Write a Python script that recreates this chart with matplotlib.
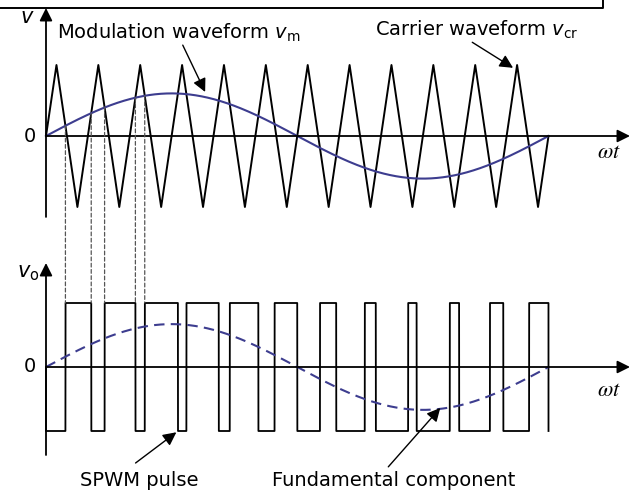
import matplotlib.pyplot as plt
import numpy as np
from matplotlib.patches import ConnectionPatch
from matplotlib.lines import Line2D

# waveform parameters
carrier_cycles = 12      # triangle periods over one modulation period
mod_index = 0.6          # modulation peak / carrier peak
fund_amp = 0.67          # fundamental peak / pulse height
n_dashed = 5             # crossings projected down to the pulses

labels_top = ['Modulation waveform $v_{\\rm m}$', 'Carrier waveform $v_{\\rm cr}$']
labels_bot = ['SPWM pulse', 'Fundamental component']

# carrier vertices: 0, +1, -1, +1, ... , -1, 0
T = 2 * np.pi / carrier_cycles
car_t = np.concatenate([[0], T / 4 + np.arange(2 * carrier_cycles) * T / 2, [2 * np.pi]])
car_v = np.concatenate([[0], np.tile([1, -1], carrier_cycles), [0]])

t = np.linspace(0, 2 * np.pi, 20001)
carrier = np.interp(t, car_t, car_v)
mod = mod_index * np.sin(t)
pulse = np.where(mod > carrier, 1.0, -1.0)
diff = mod - carrier
cross = np.where(np.sign(diff[1:]) != np.sign(diff[:-1]))[0]
cross = cross[cross > 10][:n_dashed]

W, H = 633, 492
fig = plt.figure(figsize=(W / 100, H / 100), dpi=100)
plt.rcParams['font.family'] = ['DejaVu Sans']

# pixel layout of the original drawing
x0, xs = 46, 502.5 / (2 * np.pi)
top_zero, top_unit = 136, 71
bot_zero, bot_unit = 367, 64

ax1 = fig.add_axes([0, 0, 1, 1])
ax2 = fig.add_axes([0, 0, 1, 1])
for ax, z, u in [(ax1, top_zero, top_unit), (ax2, bot_zero, bot_unit)]:
    ax.set_xlim(-x0 / xs, (W - x0) / xs)
    ax.set_ylim(-(H - z) / u, z / u)
    ax.axis('off')
ax2.patch.set_alpha(0)

axis_kw = dict(arrowstyle='-|>', color='black', lw=1.3, mutation_scale=19,
               shrinkA=0, shrinkB=0)
note_kw = dict(axis_kw, lw=1.0, mutation_scale=20)
x_end = (630 - x0) / xs
blue = '#3d3d8f'

# top panel
ax1.annotate('', xy=(x_end, 0), xytext=(0, 0), arrowprops=axis_kw)
ax1.annotate('', xy=(0, (top_zero - 8) / top_unit), xytext=(0, -1.14), arrowprops=axis_kw)
ax1.plot(car_t, car_v, color='black', lw=1.4)
ax1.plot(t, mod, color=blue, lw=1.5)
ax1.text(-0.24, 1.68, '$v$', fontsize=15, ha='center', va='center')
ax1.text(-0.2, 0, '0', fontsize=14, ha='center', va='center')
ax1.text(7.04, -0.22, '$\\omega t$', fontsize=16, ha='center', va='center',
         math_fontfamily='stix')
ax1.text(0.14, 1.45, labels_top[0], fontsize=14, va='center')
ax1.annotate('', xy=(1.99, 0.62), xytext=(1.71, 1.28), arrowprops=note_kw)
ax1.text(4.11, 1.49, labels_top[1], fontsize=14, va='center')
ax1.annotate('', xy=(5.84, 0.96), xytext=(5.33, 1.32), arrowprops=note_kw)

# bottom panel
ax2.annotate('', xy=(x_end, 0), xytext=(0, 0), arrowprops=axis_kw)
ax2.annotate('', xy=(0, 1.625), xytext=(0, -1.375), arrowprops=axis_kw)
ax2.plot(np.concatenate([[0], t, [t[-1]]]), np.concatenate([[0], pulse, [-1]]),
         color='black', lw=1.3)
ax2.plot(t, fund_amp * np.sin(t), color=blue, lw=1.5, dashes=(5, 3))
ax2.text(-0.22, 1.47, '$v_{\\rm o}$', fontsize=15, ha='center', va='center')
ax2.text(-0.2, 0, '0', fontsize=14, ha='center', va='center')
ax2.text(7.04, -0.36, '$\\omega t$', fontsize=16, ha='center', va='center',
         math_fontfamily='stix')
ax2.text(0.43, -1.77, labels_bot[0], fontsize=14, va='center')
ax2.annotate('', xy=(1.63, -1.02), xytext=(1.12, -1.5), arrowprops=note_kw)
ax2.text(2.83, -1.77, labels_bot[1], fontsize=14, va='center')
ax2.annotate('', xy=(4.93, -0.64), xytext=(4.28, -1.56), arrowprops=note_kw)

# projections of the crossings onto the pulse tops
for i in cross:
    con = ConnectionPatch(xyA=(t[i], carrier[i]), coordsA=ax1.transData,
                          xyB=(t[i], 1), coordsB=ax2.transData,
                          color='#555555', lw=0.9, linestyle=(0, (3, 2)))
    fig.add_artist(con)

# clipped frame edge at the top
fy = 1 - 7.5 / H
fx = 603 / W
fig.add_artist(Line2D([0, fx, fx], [fy, fy, 1], transform=fig.transFigure,
                      color='black', lw=1.4))

fig.savefig('out.png', dpi=100)
